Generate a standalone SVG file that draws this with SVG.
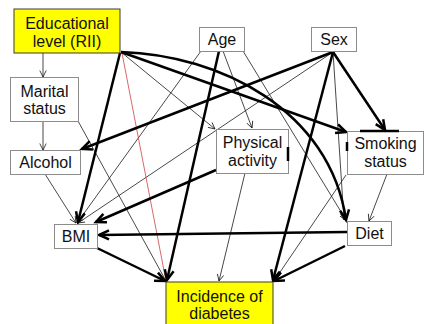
<svg xmlns="http://www.w3.org/2000/svg" width="425" height="324" viewBox="0 0 425 324">
<defs>
<style>
.box{fill:#fff;stroke:#8c8c8c;stroke-width:1}
.ybox{fill:#ffff00;stroke:#3a3a3a;stroke-width:1}
.t{font-family:"Liberation Sans",Arial,sans-serif;font-size:16px;fill:#111;text-anchor:middle}
.thin{fill:none;stroke:#1a1a1a;stroke-width:0.8;marker-end:url(#ah)}
.thick{fill:none;stroke:#000;stroke-width:2.5;marker-end:url(#AH)}
.red{fill:none;stroke:#d04040;stroke-width:0.8}
.art{stroke:#000;stroke-width:2.5}
</style>
<marker id="ah" markerUnits="userSpaceOnUse" markerWidth="10" markerHeight="10" refX="7" refY="4" orient="auto">
<path d="M0.5,0.8 L7,4 L0.5,7.2" fill="none" stroke="#1a1a1a" stroke-width="0.8"/>
</marker>
<marker id="AH" markerUnits="userSpaceOnUse" markerWidth="14" markerHeight="14" refX="11" refY="6" orient="auto">
<path d="M1,1.5 L11,6 L1,10.5" fill="none" stroke="#000" stroke-width="2.5" stroke-linejoin="miter"/>
</marker>
</defs>
<rect width="425" height="324" fill="#fff"/>
<g id="connectors">
<line class="thin" x1="43" y1="53" x2="43" y2="77"/>
<line class="thin" x1="43" y1="121" x2="43" y2="150"/>
<line class="thin" x1="45" y1="174" x2="76" y2="223"/>
<line class="thin" x1="78" y1="121" x2="166" y2="281"/>
<line class="thin" x1="121" y1="52" x2="215" y2="129"/>
<line class="thin" x1="201" y1="51" x2="77" y2="223"/>
<line class="thin" x1="223" y1="51" x2="252" y2="128"/>
<line class="thin" x1="243" y1="51" x2="346" y2="220"/>
<line class="thin" x1="333" y1="52" x2="78" y2="223"/>
<line class="thin" x1="333" y1="52" x2="344" y2="220"/>
<line class="thin" x1="245" y1="173" x2="219" y2="281"/>
<line class="thin" x1="387" y1="174" x2="369" y2="221"/>
<line class="thin" x1="346" y1="175" x2="274" y2="281"/>
<line class="red" x1="122" y1="53" x2="166" y2="281"/>
<line class="thick" x1="120" y1="53" x2="78" y2="222"/>
<line class="thick" x1="121" y1="52" x2="346" y2="132"/>
<path class="thick" d="M121,52 C220,55 330,110 346,220"/>
<line class="thick" x1="219" y1="51" x2="167" y2="280"/>
<line class="thick" x1="333" y1="52" x2="82" y2="149"/>
<line class="thick" x1="333" y1="52" x2="385" y2="130"/>
<line class="thick" x1="333" y1="52" x2="273" y2="280"/>
<line class="thick" x1="216" y1="170" x2="96" y2="222"/>
<line class="thick" x1="347" y1="232" x2="99" y2="235"/>
<line class="thick" x1="97" y1="248" x2="165" y2="281"/>
<line class="thick" x1="345" y1="246" x2="274" y2="281"/>
</g>
<g id="edu">
<rect class="ybox" x="14" y="9" width="106" height="44"/>
<text class="t" x="67" y="29">Educational</text>
<text class="t" x="67" y="47">level (RII)</text>
</g>
<g id="age">
<rect class="box" x="199.5" y="27.5" width="45" height="24"/>
<text class="t" x="222" y="45">Age</text>
</g>
<g id="sex">
<rect class="box" x="311.5" y="27.5" width="45" height="24"/>
<text class="t" x="334" y="45">Sex</text>
</g>
<g id="marital">
<rect class="box" x="10.5" y="77.5" width="68" height="44"/>
<text class="t" x="44.5" y="97">Marital</text>
<text class="t" x="44.5" y="114">status</text>
</g>
<g id="alcohol">
<rect class="box" x="10.5" y="150.5" width="70" height="24"/>
<text class="t" x="45.5" y="168">Alcohol</text>
</g>
<g id="physical">
<rect class="box" x="216.5" y="129.5" width="72" height="44"/>
<text class="t" x="252.5" y="148">Physical</text>
<text class="t" x="252.5" y="166">activity</text>
<line class="art" x1="288" y1="147" x2="288" y2="161"/>
</g>
<g id="smoking">
<rect class="box" x="347.5" y="131.5" width="76" height="43"/>
<text class="t" x="385.5" y="149">Smoking</text>
<text class="t" x="385.5" y="167">status</text>
<line class="art" x1="360" y1="131" x2="399" y2="131"/>
<line class="art" x1="347" y1="142" x2="347" y2="151"/>
</g>
<g id="bmi">
<rect class="box" x="54.5" y="224.5" width="43" height="24"/>
<text class="t" x="76" y="242">BMI</text>
</g>
<g id="diet">
<rect class="box" x="347.5" y="221.5" width="44" height="24"/>
<text class="t" x="369.5" y="239">Diet</text>
</g>
<g id="incidence">
<rect class="ybox" x="166" y="282" width="107" height="44"/>
<text class="t" x="219.5" y="302">Incidence of</text>
<text class="t" x="219.5" y="319">diabetes</text>
</g>
</svg>
